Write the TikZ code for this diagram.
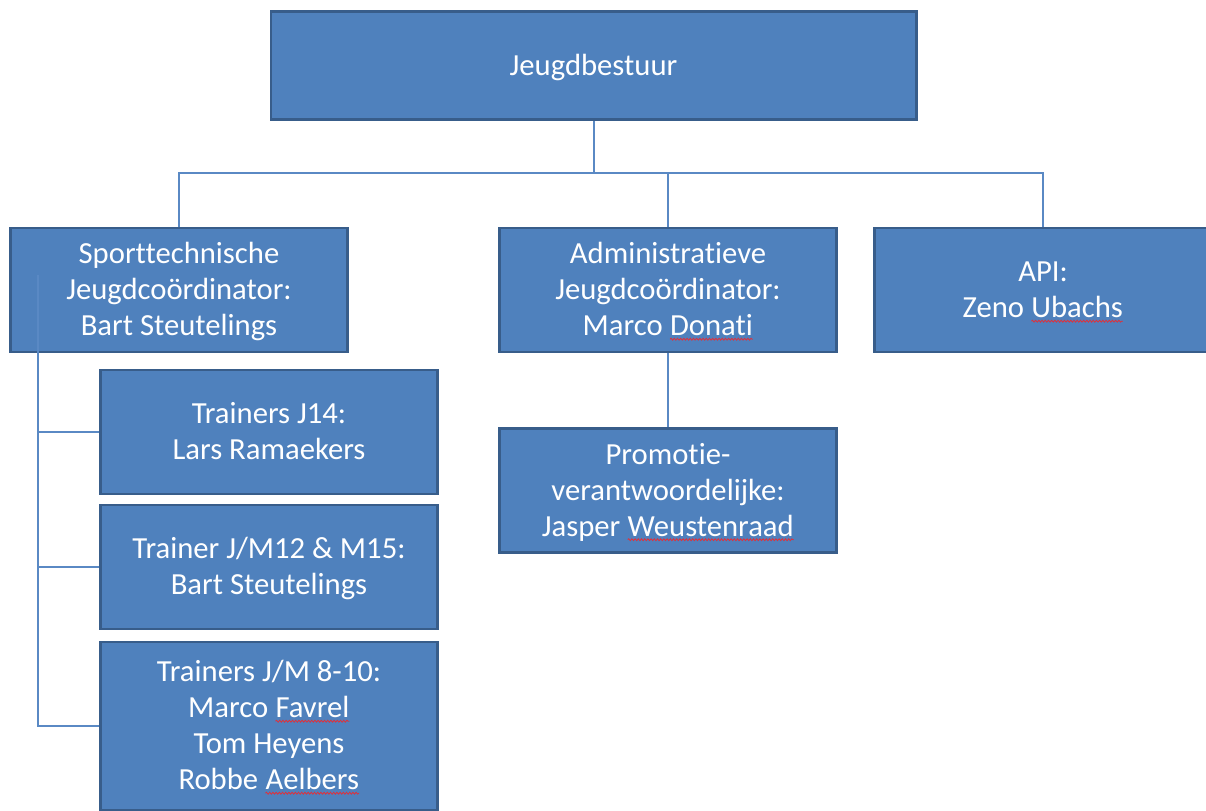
\documentclass[tikz,border=0pt]{standalone}
\usepackage{fontspec}
\setmainfont{Carlito}[Ligatures=NoCommon]
\usetikzlibrary{decorations.pathmorphing}

\definecolor{boxfill}{HTML}{4F81BD}
\definecolor{boxline}{HTML}{385D8A}
\definecolor{linkblue}{HTML}{5A89C4}
\definecolor{spellred}{HTML}{E0303A}

% red wavy mark under a word
\newcommand\spellmark[1]{\tikz[baseline=(w.base)]{%
  \node[inner sep=0pt,outer sep=0pt,minimum size=0pt,draw=none,fill=none,
    text width=,execute at begin node={},execute at end node={}] (w) {#1};
  \draw[spellred,line width=0.6pt,fill=none,decorate,
    decoration={snake,amplitude=0.7pt,segment length=2.4pt}]
    ([yshift=-2.5pt]w.base west) -- ([yshift=-2.5pt]w.base east);}}

\begin{document}
\begin{tikzpicture}[x=0.75pt,y=-0.75pt,
  orgbox/.style={draw=boxline,fill=boxfill,line width=2pt,text=white,
    text width=248pt,align=flush center,
    minimum width=253pt,minimum height=93pt,inner sep=2pt,
    font=\fontsize{23}{27}\selectfont,
    execute at begin node={\noindent\rule{0pt}{20.5pt}},
    execute at end node={\rule[-5.7pt]{0pt}{5.7pt}}},
  link/.style={draw=linkblue,line width=1pt}]
\useasboundingbox (0,0) rectangle (1206,810);
\clip (0,0) rectangle (1206,810);

\node[orgbox,text width=480pt,minimum width=484pt,minimum height=81pt] (bestuur) at (593.5,65.5) {Jeugdbestuur};

\node[orgbox] (sport) at (179,290) {Sporttechnische\\Jeugdco\"ordinator:\\Bart Steutelings};
\node[orgbox] (admin) at (668,290) {Administratieve\\Jeugdco\"ordinator:\\Marco \spellmark{Donati}};
\node[orgbox] (api) at (1043,290) {API:\\Zeno \spellmark{Ubachs}};

\node[orgbox] (jeugd14) at (269,432) {Trainers J14:\\Lars Ramaekers};
\node[orgbox] (jeugd12) at (269,567) {Trainer J/M12 \& M15:\\Bart Steutelings};
\node[orgbox,minimum height=126pt] (jeugd8) at (269,726)
{Trainers J/M 8-10:\\Marco \spellmark{Favrel}\\Tom Heyens\\Robbe \spellmark{Aelbers}};

\node[orgbox] (promo) at (668,490.5) {Promotie-\\verantwoordelijke:\\Jasper \spellmark{Weustenraad}};

\coordinate (bus) at (593.5,173);
\coordinate (trunk) at (38,275);

\draw[link,line width=1.5pt] (bestuur.south) -- (bus);
\draw[link] (sport.north) |- (bus) -| (api.north);
\draw[link] (admin.north) -- (admin.north |- bus);
\draw[link] (admin.south) -- (promo.north);

\draw[link] (trunk) |- (jeugd8.west);
\draw[link] (trunk |- jeugd14.west) -- (jeugd14.west);
\draw[link] (trunk |- jeugd12.west) -- (jeugd12.west);

\end{tikzpicture}
\end{document}
